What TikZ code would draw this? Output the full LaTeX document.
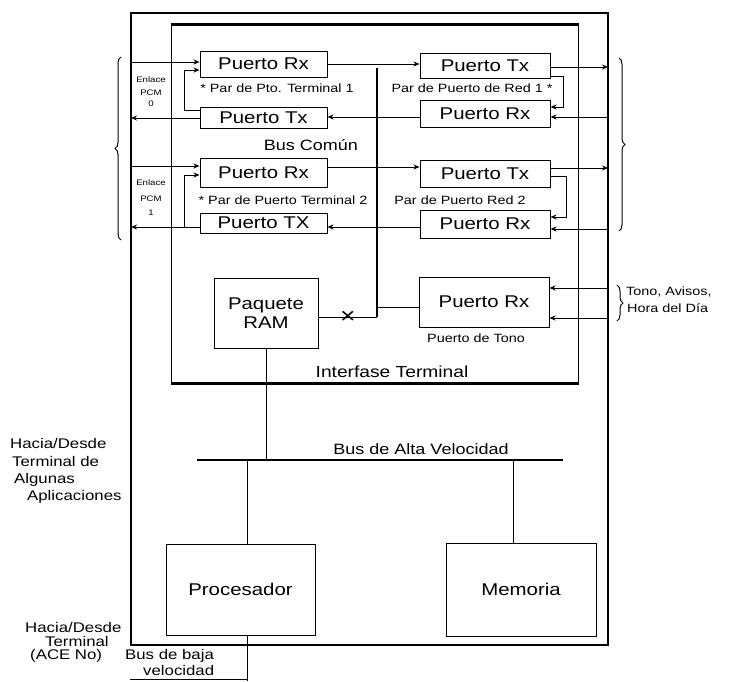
\documentclass[tikz,border=0pt]{standalone}
\usepackage{fontspec}
\setmainfont{Liberation Sans}[FakeStretch=1.2]
\usetikzlibrary{arrows.meta,decorations.pathreplacing}

\begin{document}
\begin{tikzpicture}[x=1pt,y=-1pt,
  box/.style={draw,line width=1pt,inner sep=0pt,font=\fontsize{17}{19}\selectfont},
  heavy/.style={line width=2.8pt},
  wire/.style={line width=1pt},
  arr/.style={wire,-{Stealth[length=6pt,width=5pt]}},
  note/.style={inner sep=0pt,font=\fontsize{12}{12}\selectfont},
  side/.style={inner sep=0pt,anchor=west,font=\fontsize{14}{14}\selectfont},
  tinytxt/.style={inner sep=0pt,font=\fontsize{8}{8}\selectfont},
  brc/.style={line width=1pt,decorate,decoration={brace,amplitude=6pt}}
]
\useasboundingbox (0,0) rectangle (729,681);

% frames
\node[draw,line width=2.8pt,minimum width=477pt,minimum height=632pt,inner sep=0pt] (outer) at (369.5,329) {};
\node[draw,wire,minimum width=407pt,minimum height=358pt,inner sep=0pt] (inner) at (374.5,204) {};
\draw[heavy] (inner.north west) -- (inner.north east);
\draw[heavy] (inner.south west) -- (inner.south east);
\node[inner sep=0pt,font=\fontsize{16}{16}\selectfont] (itlbl) at (392,372) {Interfase Terminal};

% port boxes
\node[box,minimum width=127pt,minimum height=26pt] (rx1) at (263.5,64) {Puerto Rx};
\node[box,minimum width=127pt,minimum height=21pt] (tx1) at (263.5,117.5) {Puerto Tx};
\node[box,minimum width=127pt,minimum height=29pt] (rx2) at (263.5,172.5) {Puerto Rx};
\node[box,minimum width=127pt,minimum height=20pt] (tx2) at (263.5,223) {Puerto TX};
\node[box,minimum width=130pt,minimum height=25pt] (txR1) at (485,65.5) {Puerto Tx};
\node[box,minimum width=130pt,minimum height=27pt] (rxR1) at (485,113.5) {Puerto Rx};
\node[box,minimum width=130pt,minimum height=27pt] (txR2) at (485,173.5) {Puerto Tx};
\node[box,minimum width=130pt,minimum height=28pt] (rxR2) at (485,224) {Puerto Rx};
\node[box,minimum width=130pt,minimum height=50pt] (tono) at (484,302) {Puerto Rx};
\node[box,minimum width=104pt,minimum height=70pt,align=center] (ram) at (266,313) {Paquete\\RAM};
\node[box,minimum width=149pt,minimum height=91pt] (proc) at (240.5,589.5) {Procesador};
\node[box,minimum width=150pt,minimum height=93pt] (mem) at (521,589.5) {Memoria};

% buses
\coordinate (cbT) at (377,68);
\coordinate (cbB) at (377,317);
\draw[heavy] (cbT) -- (cbB);
\node[inner sep=0pt,font=\fontsize{15}{15}\selectfont] (cblbl) at (311,145) {Bus Común};

\coordinate (hbL) at (197,460);
\coordinate (hbR) at (563,460);
\draw[heavy] (hbL) -- (hbR);
\node[inner sep=0pt,font=\fontsize{15}{15}\selectfont] (hblbl) at (421,449) {Bus de Alta Velocidad};

% pair labels
\node[note] (par1) at (277,88) {* Par de Pto. Terminal 1};
\node[note] (par2) at (283,200) {* Par de Puerto Terminal 2};
\node[note] (red1) at (472,88) {Par de Puerto de Red 1 *};
\node[note] (red2) at (460,200) {Par de Puerto Red 2};
\node[note] (tonolbl) at (476,338) {Puerto de Tono};

% PCM link labels
\node[tinytxt] (e0a) at (151,80) {Enlace};
\node[tinytxt] (e0b) at (151,93) {PCM};
\node[tinytxt] (e0c) at (151,104) {0};
\node[tinytxt] (e1a) at (151,183) {Enlace};
\node[tinytxt] (e1b) at (151,199) {PCM};
\node[tinytxt] (e1c) at (151,213) {1};

% left-hand PCM link 0
\draw[arr,shorten <=1.4pt] (outer.west |- 0,62) -- (rx1.west |- 0,62);
\draw[arr,shorten >=1.4pt] (tx1.west |- 0,118) -- (outer.west |- 0,118);
\draw[arr] (tx1.west |- 0,110) -- ++(-15,0) |- (rx1.west |- 0,70);
% left-hand PCM link 1
\draw[arr,shorten <=1.4pt] (outer.west |- 0,166) -- (rx2.west |- 0,166);
\draw[arr,shorten >=1.4pt] (tx2.west |- 0,227) -- (outer.west |- 0,227);
\draw[arr] (tx2.west |- 0,227) ++(-15,0) |- (rx2.west |- 0,175);

% across the common bus
\draw[arr] (rx1.east |- 0,64) -- (txR1.west |- 0,64);
\draw[arr] (rxR1.west |- 0,117) -- (tx1.east |- 0,117);
\draw[arr] (rx2.east |- 0,167) -- (txR2.west |- 0,167);
\draw[arr] (rxR2.west |- 0,227) -- (tx2.east |- 0,227);

% right-hand network ports
\draw[arr,shorten >=1.4pt] (txR1.east |- 0,67) -- (outer.east |- 0,67);
\draw[arr,shorten <=1.4pt] (outer.east |- 0,117) -- (rxR1.east |- 0,117);
\draw[arr] (txR1.east |- 0,76) -- ++(13,0) |- (rxR1.east |- 0,107);
\draw[arr,shorten >=1.4pt] (txR2.east |- 0,168) -- (outer.east |- 0,168);
\draw[arr] (txR2.east |- 0,176) -- ++(16,0) |- (rxR2.east |- 0,217);
\draw[arr,shorten <=1.4pt] (outer.east |- 0,229) -- (rxR2.east |- 0,229);

% tone port
\draw[arr,shorten <=1.4pt] (outer.east |- 0,288) -- (tono.east |- 0,288);
\draw[arr,shorten <=1.4pt] (outer.east |- 0,318) -- (tono.east |- 0,318);
\draw[wire] (cbB |- 0,307) -- (tono.west |- 0,307);
\draw[wire] (ram.east |- 0,317) -- node[inner sep=0pt,font=\fontsize{22}{22}\selectfont]{×} (cbB);

% braces
\draw[brc] (121,240) -- (121,57);
\draw[brc] (619,58) -- (619,231);
\draw[brc] (617,285) -- (617,321);
\node[inner sep=0pt,anchor=west,font=\fontsize{12}{12}\selectfont] (tn1) at (626,292) {Tono, Avisos,};
\node[inner sep=0pt,anchor=west,font=\fontsize{12}{12}\selectfont] (tn2) at (627,308) {Hora del Día};

% links to the high-speed bus
\draw[wire] (ram.south) -- (ram.south |- hbL);
\draw[wire] ([xshift=6.5pt]proc.north) -- ([xshift=6.5pt]proc.north |- hbL);
\draw[wire] ([xshift=-8pt]mem.north) -- ([xshift=-8pt]mem.north |- hbL);
\coordinate (lowEnd) at (247,681);
\draw[wire] ([xshift=6.5pt]proc.south) -- (lowEnd);

% outside labels
\node[side] (hd1) at (10,443) {Hacia/Desde};
\node[side] (hd2) at (12,461) {Terminal de};
\node[side] (hd3) at (14,480) {Algunas};
\node[side] (hd4) at (27,497) {Aplicaciones};

\node[side] (lw1) at (25,627) {Hacia/Desde};
\node[side] (lw2) at (45,641) {Terminal};
\node[side] (lw3) at (30,656) {(ACE No)};
\node[side] (lw4) at (125,656) {Bus de baja};
\node[side] (lw5) at (143,670) {velocidad};
\coordinate (ulL) at (130,679);
\draw[wire] (ulL) -- (lowEnd |- ulL);
\end{tikzpicture}
\end{document}
